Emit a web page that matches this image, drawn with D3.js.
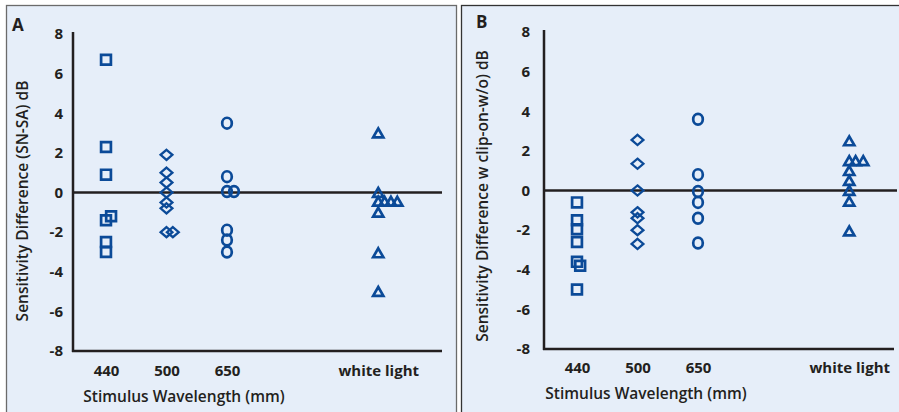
<!DOCTYPE html>
<html>
<head>
<meta charset="utf-8">
<script src="https://cdn.jsdelivr.net/npm/d3@7/dist/d3.min.js"></script>
<style>
  html, body { margin: 0; padding: 0; background: #ffffff; }
  svg { display: block; }
  text { font-family: "Open Sans", "Noto Sans", sans-serif; fill: #231f20; }
</style>
</head>
<body>
<svg id="chart" width="899" height="412"></svg>
<script>
// ---------------- data ----------------
const categories = ["440", "500", "650", "white light"];
const categoryPositions = [1, 2, 3, 5.5];
const yTicks = [-8, -6, -4, -2, 0, 2, 4, 6, 8];

const panelLetters = ["A", "B"];
const yTitles = ["Sensitivity Difference (SN-SA) dB", "Sensitivity Difference w clip-on-w/o) dB"];
const xTitle = "Stimulus Wavelength (mm)";

// Panel A values (dB) and horizontal nudges (in marker steps) for overlapping points
const aSquares = [6.7, 2.3, 0.9, -1.4, -1.2, -2.5, -3.0];
const aSquaresNudge = [0, 0, 0, 0, 0.8, 0, 0];
const aDiamonds = [1.9, 1.0, 0.5, 0.0, -0.5, -0.8, -2.0, -2.0];
const aDiamondsNudge = [0, 0, 0, 0, 0, 0, 0, 1];
const aCircles = [3.5, 0.8, 0.05, 0.05, -1.9, -2.4, -3.0];
const aCirclesNudge = [0, 0, 0, 1.1, 0, 0, 0];
const aTriangles = [3.0, 0.0, -0.45, -0.45, -0.45, -0.45, -1.0, -3.05, -5.0];
const aTrianglesNudge = [0, 0, 0, 1, 2, 3, 0, 0, 0];

// Panel B values (dB)
const bSquares = [-0.6, -1.5, -1.95, -2.6, -3.6, -3.8, -5.0];
const bSquaresNudge = [0, 0, 0, 0, 0, 0.5, 0];
const bDiamonds = [2.55, 1.35, 0.0, -1.1, -1.4, -2.0, -2.7];
const bDiamondsNudge = [0, 0, 0, 0, 0, 0, 0];
const bCircles = [3.6, 0.8, -0.05, -0.6, -1.4, -2.65];
const bCirclesNudge = [0, 0, 0, 0, 0, 0];
const bTriangles = [2.5, 1.5, 1.5, 1.5, 1.0, 0.5, 0.0, -0.55, -2.05];
const bTrianglesNudge = [0, 0, 1, 2.2, 0, 0, 0, 0, 0];

const NUDGE_STEP = 0.105; // category units per nudge step

// ---------------- layout ----------------
const svg = d3.select("#chart");
const markerColor = "#0b4a98";
const axisColor = "#231f20";
const bg = "#e6eef9";

const panels = [
  {
    frame: {x: 6, y: 5, w: 450, h: 420}, frameStroke: "#6b6b6b",
    axisX: 73, rightX: 442, zeroRight: 442, yTop: 34, yBottom: 351,
    tickPad: 10, xLabelY: 371, xTitleX: 184, xTitleY: 397,
    yTitleX: 23, yTitleY: 201, letterX: 12, letterY: 31,
    series: [
      {shape: "square", values: aSquares, nudge: aSquaresNudge, cat: 0},
      {shape: "diamond", values: aDiamonds, nudge: aDiamondsNudge, cat: 1},
      {shape: "circle", values: aCircles, nudge: aCirclesNudge, cat: 2},
      {shape: "triangle", values: aTriangles, nudge: aTrianglesNudge, cat: 3}
    ]
  },
  {
    frame: {x: 461, y: 5, w: 450, h: 420}, frameStroke: "#333333",
    axisX: 544, rightX: 894, zeroRight: 897, yTop: 32, yBottom: 349,
    tickPad: 14, xLabelY: 368, xTitleX: 646, xTitleY: 394,
    yTitleX: 483, yTitleY: 196, letterX: 476, letterY: 28,
    series: [
      {shape: "square", values: bSquares, nudge: bSquaresNudge, cat: 0},
      {shape: "diamond", values: bDiamonds, nudge: bDiamondsNudge, cat: 1},
      {shape: "circle", values: bCircles, nudge: bCirclesNudge, cat: 2},
      {shape: "triangle", values: bTriangles, nudge: bTrianglesNudge, cat: 3}
    ]
  }
];

function shapePath(shape) {
  const p = d3.path();
  if (shape === "square") {
    const s = 4.9;
    p.rect(-s, -s, 2 * s, 2 * s);
  } else if (shape === "diamond") {
    p.moveTo(0, -5.1); p.lineTo(5.9, 0); p.lineTo(0, 5.1); p.lineTo(-5.9, 0); p.closePath();
  } else if (shape === "triangle") {
    p.moveTo(0, -4.6); p.lineTo(5.1, 4.3); p.lineTo(-5.1, 4.3); p.closePath();
  }
  return p.toString();
}
function ellipsePath(rx, ry) {
  return `M${-rx},0A${rx},${ry} 0 1,0 ${rx},0A${rx},${ry} 0 1,0 ${-rx},0Z`;
}

panels.forEach((P, i) => {
  const g = svg.append("g");
  g.append("rect")
    .attr("x", P.frame.x + 0.5).attr("y", P.frame.y + 0.5)
    .attr("width", P.frame.w).attr("height", P.frame.h)
    .attr("fill", bg).attr("stroke", P.frameStroke).attr("stroke-width", 1.3);

  const x = d3.scaleLinear().domain([1, 5.5]).range([P.axisX + 33, P.axisX + 33 + 4.5 * 60.5]);
  const y = d3.scaleLinear().domain([-8, 8]).range([P.yBottom, P.yTop]);

  // y axis tick labels
  const yAxis = d3.axisLeft(y).tickValues(yTicks).tickSize(0).tickPadding(P.tickPad).tickFormat(d3.format("d"));
  const ya = g.append("g").attr("transform", `translate(${P.axisX},0)`).call(yAxis);
  ya.select(".domain").remove();
  ya.selectAll("text")
    .style("font-family", '"Open Sans", sans-serif')
    .style("font-size", "15px").style("font-weight", 700).attr("fill", axisColor)
    .text(d => d < 0 ? "-" + Math.abs(d) : d);

  // x axis category labels
  const xAxis = d3.axisBottom(x).tickValues(categoryPositions).tickSize(0).tickPadding(0)
    .tickFormat((d, k) => categories[k]);
  const xa = g.append("g").attr("transform", `translate(0,${P.xLabelY})`).call(xAxis);
  xa.select(".domain").remove();
  xa.selectAll("text")
    .attr("dy", "0.35em")
    .style("font-family", '"Open Sans", sans-serif')
    .style("font-size", "15px").style("font-weight", 700).attr("fill", axisColor);

  // axis lines
  g.append("line").attr("x1", P.axisX).attr("x2", P.axisX)
    .attr("y1", P.yTop - 2).attr("y2", P.yBottom + 1)
    .attr("stroke", axisColor).attr("stroke-width", 2.5);
  g.append("line").attr("x1", P.axisX - 1).attr("x2", P.rightX)
    .attr("y1", y(-8)).attr("y2", y(-8))
    .attr("stroke", axisColor).attr("stroke-width", 2.5);
  g.append("line").attr("x1", P.axisX).attr("x2", P.zeroRight)
    .attr("y1", y(0)).attr("y2", y(0))
    .attr("stroke", axisColor).attr("stroke-width", 2.5);

  // markers
  P.series.forEach(s => {
    const pts = s.values.map((v, k) => ({v, n: s.nudge[k]}));
    g.selectAll(null).data(pts).enter().append("path")
      .attr("d", s.shape === "circle" ? ellipsePath(4.8, 5.4) : shapePath(s.shape))
      .attr("transform", d => `translate(${x(categoryPositions[s.cat] + d.n * NUDGE_STEP)},${y(d.v)})`)
      .attr("fill", "none").attr("stroke", markerColor)
      .attr("stroke-width", s.shape === "diamond" ? 2.3 : 2.7)
      .attr("stroke-linejoin", "miter");
  });

  // titles
  g.append("text").attr("x", P.xTitleX).attr("y", P.xTitleY).attr("dy", "0.35em")
    .attr("text-anchor", "middle")
    .style("font-size", "15.5px").style("font-weight", 600).text(xTitle);
  g.append("text").attr("transform", `translate(${P.yTitleX},${P.yTitleY}) rotate(-90)`)
    .attr("dy", "0.35em").attr("text-anchor", "middle")
    .style("font-size", "15.5px").style("font-weight", 600).text(yTitles[i]);
  g.append("text").attr("x", P.letterX).attr("y", P.letterY)
    .style("font-size", "17px").style("font-weight", 700).text(panelLetters[i]);
});
</script>
</body>
</html>
